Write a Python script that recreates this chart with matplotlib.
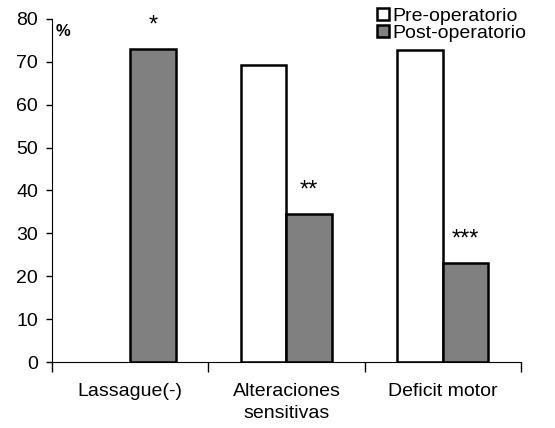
import matplotlib
matplotlib.use("Agg")
import matplotlib.pyplot as plt
import numpy as np

categories = ["Lassague(-)", "Alteraciones\nsensitivas", "Deficit motor"]
pre_values = [0, 69.2, 72.8]
post_values = [72.9, 34.6, 23.1]
stars = ["*", "**", "***"]

plt.rcParams['font.family'] = ['Liberation Sans', 'DejaVu Sans']

fig = plt.figure(figsize=(5.55, 4.28), dpi=100)
ax = fig.add_axes([0.0937, 0.154, 0.845, 0.802])

x = np.arange(len(categories))
w = 0.29
ax.bar(x[1:] - w / 2, pre_values[1:], w, color="white", edgecolor="black",
       linewidth=1.8, label="Pre-operatorio")
ax.bar(x + w / 2, post_values, w, color="#808080", edgecolor="black",
       linewidth=1.8, label="Post-operatorio")

for xi, v, s in zip(x, post_values, stars):
    ax.text(xi + w / 2, v + 4.1, s, ha="center", va="baseline", fontsize=17,
            clip_on=False)

ax.set_xlim(-0.5, 2.5)
ax.set_ylim(0, 80)
ax.set_yticks(range(0, 81, 10))
ax.set_xticks(x)
ax.set_xticklabels(categories, linespacing=1.4)
ax.set_xticks([-0.5, 0.5, 1.5, 2.5], minor=True)
ax.tick_params(axis="x", which="major", length=0, pad=15, labelsize=14)
ax.tick_params(axis="x", which="minor", length=7, width=1, direction="out")
ax.tick_params(axis="y", length=4, width=1, pad=6, labelsize=14)

for side in ["top", "right"]:
    ax.spines[side].set_visible(False)

ax.text(0.008, 0.985, "%", transform=ax.transAxes, fontsize=12,
        fontweight="bold", va="top", ha="left")

fig.legend(loc="upper left", bbox_to_anchor=(0.665, 1.0), frameon=False,
           fontsize=14, handlelength=0.6, handleheight=0.6, handletextpad=0.2,
           labelspacing=0.0, borderaxespad=0)

fig.savefig("out.png", dpi=100)
